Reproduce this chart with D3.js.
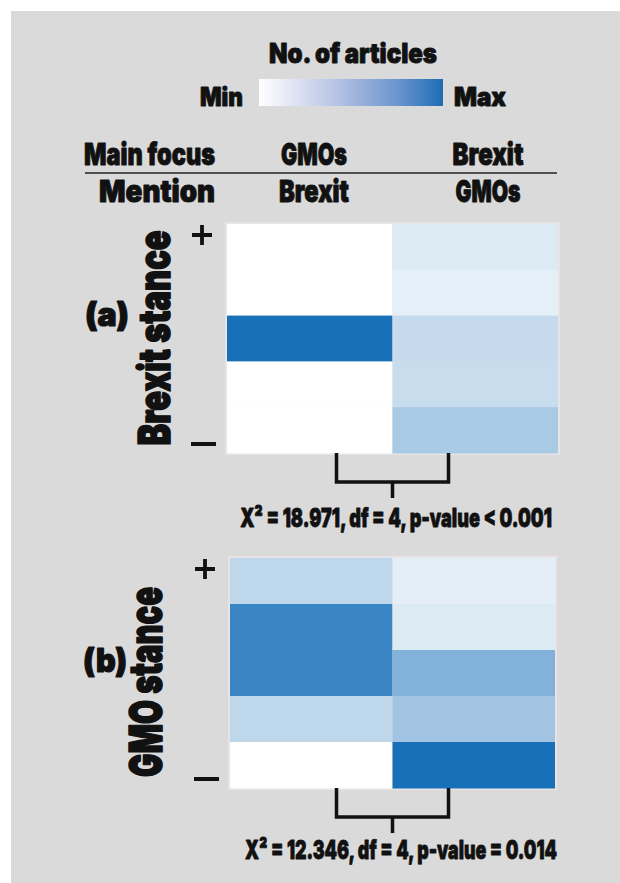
<!DOCTYPE html>
<html>
<head>
<meta charset="utf-8">
<script src="https://cdn.jsdelivr.net/npm/d3@7"></script>
<style>
  html, body { margin: 0; padding: 0; background: #ffffff; }
  svg { display: block; }
  text { font-family: Inter, Roboto, "DejaVu Sans", sans-serif; font-weight: 900; fill: #111111;
         stroke: #111111; stroke-linejoin: round; }
</style>
</head>
<body>
<svg id="chart" width="620" height="883"></svg>
<script>
// Stance levels, from most positive (top) to most negative (bottom)
const stances = ["+2", "+1", "0", "-1", "-2"];
// Article groups: main focus / mentioned topic
const mainFocus = ["GMOs", "Brexit"];
const mentions = ["Brexit", "GMOs"];

// Relative number of articles (0 = min, 1 = max), one value per stance level
// (a) Brexit stance
const brexitStanceGmoFocus = [0.00, 0.00, 1.00, 0.00, 0.00];
const brexitStanceBrexitFocus = [0.15, 0.11, 0.25, 0.24, 0.37];
// (b) GMO stance
const gmoStanceGmoFocus = [0.28, 0.85, 0.85, 0.28, 0.00];
const gmoStanceBrexitFocus = [0.12, 0.15, 0.54, 0.41, 1.00];

// Chi-square test results
const testLabels = [
  "X\u00b2 = 18.971, df = 4, p-value < 0.001",
  "X\u00b2 = 12.346, df = 4, p-value = 0.014"
];
const panelLetters = ["(a)", "(b)"];
const stanceTitles = ["Brexit stance", "GMO stance"];

const svg = d3.select("#chart");

// Condensed heavy label: drawn at its natural width, then squeezed horizontally to `width`
function label(parent, { x, y, text, size, width, anchor = "middle", rotate = 0, weight = 0.9 }) {
  const g = parent.append("g")
    .attr("transform", `translate(${x},${y})` + (rotate ? ` rotate(${rotate})` : ""));
  const t = g.append("text").attr("text-anchor", anchor).attr("font-size", size)
    .style("stroke-width", weight + "px").text(text);
  const k = width / t.node().getComputedTextLength();
  t.attr("transform", `scale(${k},1)`);
  return t;
}

// Grey background panel
svg.append("rect")
  .attr("x", 11).attr("y", 11)
  .attr("width", 609).attr("height", 872)
  .attr("fill", "#dadada");

const color = d3.scaleLinear().domain([0, 1]).range(["#ffffff", "#1770b8"]);

// ---- Legend ----
const defs = svg.append("defs");
const grad = defs.append("linearGradient").attr("id", "legendGrad");
[[0, "#ffffff"], [0.12, "#eceef8"], [0.45, "#b0bfe2"], [0.75, "#6c95cd"], [1, "#1d6db5"]]
  .forEach(([o, c]) => grad.append("stop").attr("offset", o).attr("stop-color", c));

label(svg, { x: 353, y: 63, text: "No. of articles", size: 27, width: 168 });
svg.append("rect").attr("x", 259).attr("y", 79).attr("width", 184).attr("height", 27)
  .attr("fill", "url(#legendGrad)");
label(svg, { x: 243, y: 106, text: "Min", size: 26, width: 43, anchor: "end" });
label(svg, { x: 454, y: 106, text: "Max", size: 26, width: 52, anchor: "start" });

// ---- Column headers ----
const headerX = d3.scaleOrdinal().domain(mainFocus).range([314, 488]);
const headerRows = [
  { label: "Main focus", width: 131, y: 165, values: mainFocus, widths: [66, 71] },
  { label: "Mention", width: 116, y: 202, values: mentions, widths: [70, 65] }
];
headerRows.forEach(row => {
  label(svg, { x: 215, y: row.y, text: row.label, size: 30, width: row.width, anchor: "end" });
  row.values.forEach((v, i) => {
    label(svg, { x: headerX(mainFocus[i]), y: row.y, text: v, size: 30, width: row.widths[i] });
  });
});
svg.append("line").attr("x1", 85).attr("x2", 557).attr("y1", 173).attr("y2", 173)
  .attr("stroke", "#222").attr("stroke-width", 1.6);

// ---- Heatmap panels ----
const panels = [
  { cols: [brexitStanceGmoFocus, brexitStanceBrexitFocus], xRange: [227, 558], yRange: [224, 453],
    title: stanceTitles[0], titleX: 170, titleY: 338, titleLen: 215, titleSize: 44,
    letterX: 107, letterY: 326, statX: 396, statY: 527 },
  { cols: [gmoStanceGmoFocus, gmoStanceBrexitFocus], xRange: [230, 555], yRange: [558, 788],
    title: stanceTitles[1], titleX: 162, titleY: 682, titleLen: 190, titleSize: 46,
    letterX: 105, letterY: 672, statX: 401, statY: 859 }
];

panels.forEach((p, pi) => {
  const x = d3.scaleBand().domain(mainFocus).range(p.xRange);
  const y = d3.scaleBand().domain(stances).range(p.yRange);
  const g = svg.append("g");

  const cells = [];
  mainFocus.forEach((f, ci) => stances.forEach((s, ri) => cells.push({ f, s, v: p.cols[ci][ri] })));

  // thin light frame around the grid
  g.append("rect")
    .attr("x", p.xRange[0] - 1).attr("y", p.yRange[0] - 1)
    .attr("width", p.xRange[1] - p.xRange[0] + 2).attr("height", p.yRange[1] - p.yRange[0] + 2)
    .attr("fill", "none").attr("stroke", "#e8e3e6").attr("stroke-width", 2);

  g.selectAll("rect.cell").data(cells).join("rect")
    .attr("class", "cell")
    .attr("x", d => x(d.f)).attr("y", d => y(d.s))
    .attr("width", x.bandwidth()).attr("height", y.bandwidth() + 0.5)
    .attr("fill", d => color(d.v));

  // + / − end markers
  const px = p.xRange[0] - 25, py = p.yRange[0] + 11;
  svg.append("path")
    .attr("d", `M${px - 10},${py}H${px + 10}M${px},${py - 10}V${py + 10}`)
    .attr("stroke", "#111").attr("stroke-width", 3.8).attr("fill", "none");
  svg.append("rect").attr("x", p.xRange[0] - 36).attr("y", p.yRange[1] - 11)
    .attr("width", 25).attr("height", 4).attr("fill", "#111");

  // stance axis title
  label(svg, { x: p.titleX, y: p.titleY, text: p.title,
    size: p.titleSize, width: p.titleLen, rotate: -90, weight: 1.6 });

  // panel letter
  label(svg, { x: p.letterX, y: p.letterY, text: panelLetters[pi], size: 33, width: 44, weight: 1.2 });

  // bracket joining the two groups
  const split = x(mainFocus[1]);
  const half = 56;
  const b0 = p.yRange[1], b1 = b0 + 29, b2 = b0 + 45;
  svg.append("path")
    .attr("d", `M${split - half},${b0}V${b1}H${split + half}V${b0}M${split},${b1}V${b2}`)
    .attr("fill", "none").attr("stroke", "#111").attr("stroke-width", 3.5);

  label(svg, { x: p.statX, y: p.statY, text: testLabels[pi], size: 26, width: 312, weight: 0.8 });
});
</script>
</body>
</html>
